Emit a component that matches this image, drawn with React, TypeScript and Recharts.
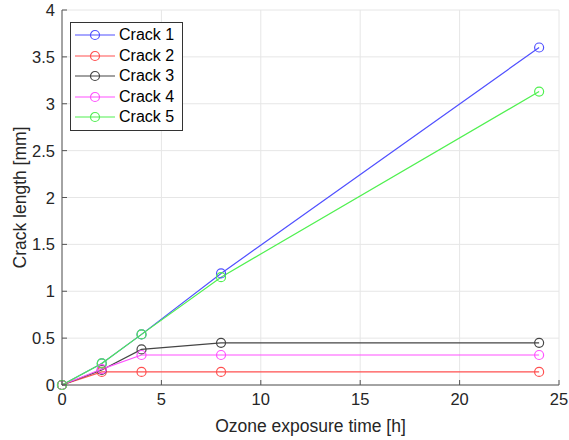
import React from "react";
import { CartesianGrid, Line, LineChart, XAxis, YAxis } from "recharts";

const hours = [0, 2, 4, 8, 24];
const crack1 = [0, 0.23, 0.54, 1.19, 3.6];
const crack2 = [0, 0.14, 0.14, 0.14, 0.14];
const crack3 = [0, 0.16, 0.38, 0.45, 0.45];
const crack4 = [0, 0.17, 0.32, 0.32, 0.32];
const crack5 = [0, 0.23, 0.54, 1.15, 3.13];

const xTicks = [0, 5, 10, 15, 20, 25];
const yTicks = [0, 0.5, 1, 1.5, 2, 2.5, 3, 3.5, 4];

const SERIES = [
  { key: "c1", name: "Crack 1", color: "#5050ff", values: crack1 },
  { key: "c2", name: "Crack 2", color: "#ff5050", values: crack2 },
  { key: "c3", name: "Crack 3", color: "#454545", values: crack3 },
  { key: "c4", name: "Crack 4", color: "#ff50ff", values: crack4 },
  { key: "c5", name: "Crack 5", color: "#50f050", values: crack5 },
];

const data = hours.map((h, i) => {
  const row: Record<string, number> = { h };
  SERIES.forEach((s) => (row[s.key] = s.values[i]));
  return row;
});

const FONT = "Liberation Sans, Arial, sans-serif";
const AXIS = "#555";

function XTick(props: any) {
  const { x, y, payload } = props;
  return (
    <g>
      <line x1={x} x2={x} y1={y - 8} y2={y - 13} stroke={AXIS} />
      <text x={x} y={y + 12} textAnchor="middle" fontSize={16.5} fill="#262626" fontFamily={FONT}>
        {payload.value}
      </text>
    </g>
  );
}

function YTick(props: any) {
  const { x, y, payload } = props;
  return (
    <g>
      <line x1={x + 8} x2={x + 13} y1={y} y2={y} stroke={AXIS} />
      <text x={x + 1} y={y + 6} textAnchor="end" fontSize={16.5} fill="#262626" fontFamily={FONT}>
        {payload.value}
      </text>
    </g>
  );
}

function LegendBox() {
  return (
    <div
      style={{
        position: "absolute",
        left: 70,
        top: 22,
        background: "#fff",
        border: "1px solid #333",
        padding: "2px 8px 2px 4px",
        fontFamily: FONT,
        fontSize: 16,
        color: "#000",
      }}
    >
      {SERIES.map((s) => (
        <div key={s.key} style={{ display: "flex", alignItems: "center", height: 20.5 }}>
          <svg width={40} height={12} style={{ marginRight: 4 }}>
            <line x1={0} x2={40} y1={6} y2={6} stroke={s.color} strokeWidth={1.2} />
            <circle cx={20} cy={6} r={4.5} fill="none" stroke={s.color} strokeWidth={1.2} />
          </svg>
          <span>{s.name}</span>
        </div>
      ))}
    </div>
  );
}

export default function App() {
  return (
    <div style={{ position: "absolute", left: 0, top: 0, width: 569, height: 440, background: "#fff" }}>
      <LineChart width={569} height={440} data={data} margin={{ top: 10, right: 10, left: 22, bottom: 0 }}>
        <CartesianGrid stroke="#e6e6e6" />
        <XAxis
          dataKey="h"
          type="number"
          domain={[0, 25]}
          ticks={xTicks}
          height={55}
          tickLine={false}
          stroke={AXIS}
          tick={<XTick />}
          label={{ value: "Ozone exposure time [h]", position: "insideBottom", offset: 8, fontSize: 17.5, fill: "#262626", fontFamily: FONT }}
        />
        <YAxis
          type="number"
          domain={[0, 4]}
          ticks={yTicks}
          width={40}
          tickLine={false}
          stroke={AXIS}
          tick={<YTick />}
          label={{ value: "Crack length [mm]", angle: -90, position: "insideLeft", offset: -2, fontSize: 17.5, fill: "#262626", fontFamily: FONT, style: { textAnchor: "middle" } }}
        />
        <XAxis xAxisId="top" orientation="top" dataKey="h" type="number" domain={[0, 25]} ticks={xTicks} height={0} mirror tick={false} tickSize={5} stroke={AXIS} />
        <YAxis yAxisId="right" orientation="right" type="number" domain={[0, 4]} ticks={yTicks} width={0} mirror tick={false} tickSize={5} stroke={AXIS} />
        {SERIES.map((s) => (
          <Line
            key={s.key}
            dataKey={s.key}
            name={s.name}
            stroke={s.color}
            strokeWidth={1.2}
            dot={{ r: 4.5, fill: "none", stroke: s.color, strokeWidth: 1.2 }}
            isAnimationActive={false}
          />
        ))}
      </LineChart>
      <LegendBox />
    </div>
  );
}
